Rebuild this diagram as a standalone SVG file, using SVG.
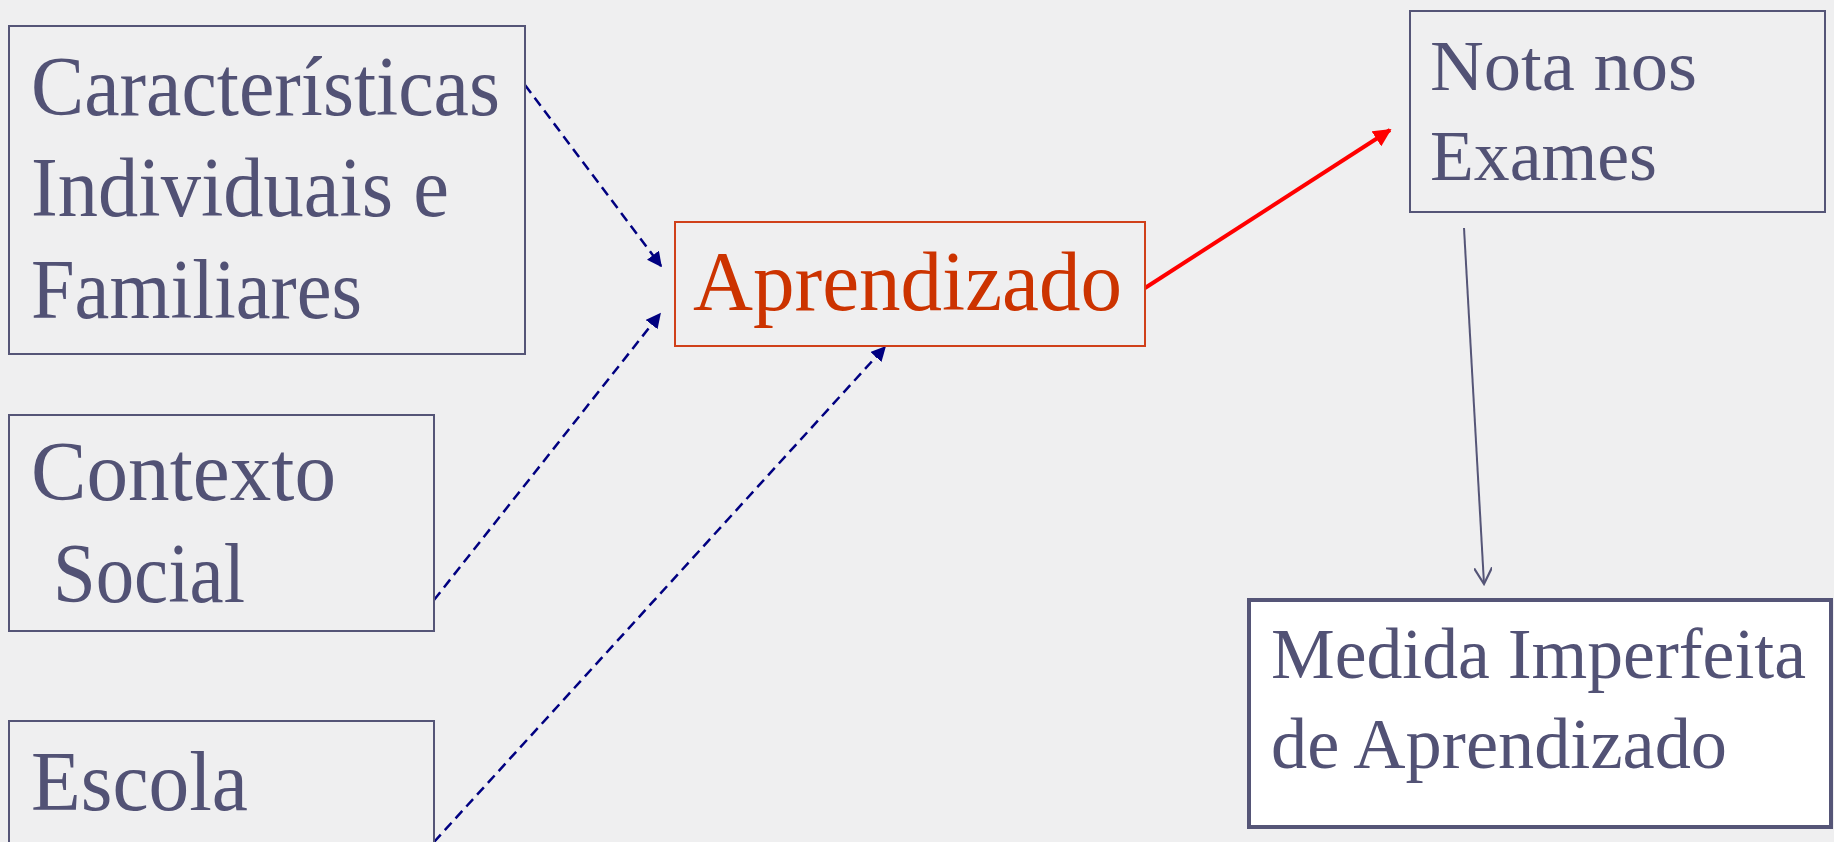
<svg xmlns="http://www.w3.org/2000/svg" width="1834" height="842" viewBox="0 0 1834 842">
<defs>
<style>
.box{fill:none;stroke:#555577;stroke-width:2}
.t{font-family:"Liberation Serif","DejaVu Serif",serif;fill:#525275;font-size:84px}
.tn{font-family:"Liberation Serif","DejaVu Serif",serif;fill:#525275;font-size:72px}
.dash{fill:none;stroke:#000080;stroke-width:2.5;stroke-dasharray:10,6}
</style>
<marker id="navy" viewBox="0 0 10 10" refX="9" refY="5" markerWidth="15" markerHeight="15" markerUnits="userSpaceOnUse" orient="auto"><path d="M0,0 L10,5 L0,10 z" fill="#000080"/></marker>
<marker id="red" viewBox="0 0 10 10" refX="9" refY="5" markerWidth="18" markerHeight="18" markerUnits="userSpaceOnUse" orient="auto"><path d="M0,0 L10,5 L0,10 z" fill="#ff0000"/></marker>
<marker id="open" viewBox="0 0 10 10" refX="9" refY="5" markerWidth="18" markerHeight="18" markerUnits="userSpaceOnUse" orient="auto"><path d="M0,0 L9,5 L0,10" fill="none" stroke="#555577" stroke-width="1.2"/></marker>
</defs>
<rect width="1834" height="842" fill="#efeff0"/>
<g id="connectors">
<line class="dash" x1="525" y1="85" x2="661" y2="266" marker-end="url(#navy)"/>
<line class="dash" x1="434" y1="600" x2="660" y2="314" marker-end="url(#navy)"/>
<line class="dash" x1="434" y1="842" x2="885" y2="347" marker-end="url(#navy)"/>
<line x1="1145" y1="288" x2="1390" y2="130" stroke="#ff0000" stroke-width="4" marker-end="url(#red)"/>
<line x1="1464" y1="228" x2="1484" y2="584" stroke="#555577" stroke-width="2" marker-end="url(#open)"/>
</g>
<g id="n-caracteristicas">
<rect class="box" x="9" y="26" width="516" height="328"/>
<text class="t" x="31" y="115" textLength="469" lengthAdjust="spacingAndGlyphs">Características</text>
<text class="t" x="31" y="216" textLength="418" lengthAdjust="spacingAndGlyphs">Individuais e</text>
<text class="t" x="31" y="318" textLength="331" lengthAdjust="spacingAndGlyphs">Familiares</text>
</g>
<g id="n-contexto">
<rect class="box" x="9" y="415" width="425" height="216"/>
<text class="t" x="31" y="500" textLength="305" lengthAdjust="spacingAndGlyphs">Contexto</text>
<text class="t" x="53" y="602" textLength="192" lengthAdjust="spacingAndGlyphs">Social</text>
</g>
<g id="n-escola">
<rect class="box" x="9" y="721" width="425" height="140"/>
<text class="t" x="31" y="810" textLength="217" lengthAdjust="spacingAndGlyphs">Escola</text>
</g>
<g id="n-aprendizado">
<rect x="675" y="222" width="470" height="124" fill="none" stroke="#d0401a" stroke-width="2"/>
<text class="t" x="693" y="310" style="fill:#cc3300" textLength="429" lengthAdjust="spacingAndGlyphs">Aprendizado</text>
</g>
<g id="n-nota">
<rect class="box" x="1410" y="11" width="415" height="201"/>
<text class="tn" x="1430" y="90" textLength="267" lengthAdjust="spacingAndGlyphs">Nota nos</text>
<text class="tn" x="1430" y="180" textLength="227" lengthAdjust="spacingAndGlyphs">Exames</text>
</g>
<g id="n-medida">
<rect x="1249" y="600" width="582" height="227" fill="#ffffff" stroke="#555577" stroke-width="4"/>
<text class="tn" x="1271" y="678" textLength="535" lengthAdjust="spacingAndGlyphs">Medida Imperfeita</text>
<text class="tn" x="1271" y="768" textLength="456" lengthAdjust="spacingAndGlyphs">de Aprendizado</text>
</g>
</svg>
